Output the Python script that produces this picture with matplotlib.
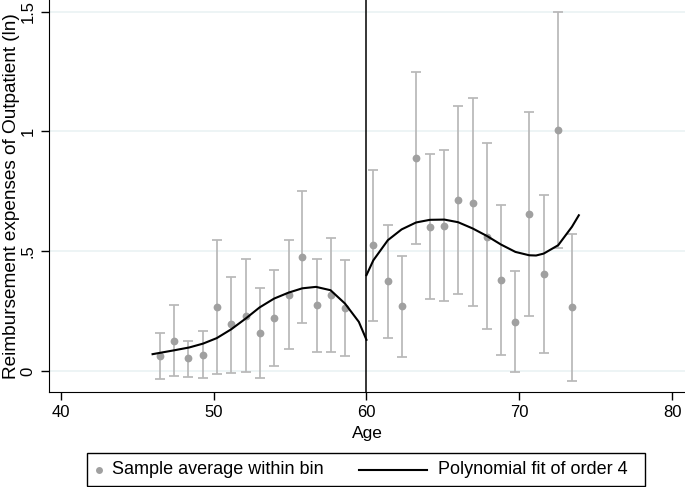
import matplotlib
matplotlib.use('Agg')
import matplotlib.pyplot as plt
from matplotlib.lines import Line2D
from matplotlib.patches import Rectangle

# --- DATA ---
# bin averages with 95% CI, left of the 60 cutoff
age_left = [46.5, 47.4, 48.35, 49.3, 50.2, 51.15, 52.1, 53.0, 53.95, 54.9, 55.8, 56.75, 57.65, 58.6]
mean_left = [0.063, 0.125, 0.052, 0.067, 0.267, 0.194, 0.230, 0.160, 0.221, 0.319, 0.476, 0.274, 0.316, 0.263]
hi_left = [0.160, 0.274, 0.127, 0.166, 0.546, 0.394, 0.467, 0.348, 0.422, 0.546, 0.750, 0.467, 0.557, 0.462]
lo_left = [-0.033, -0.022, -0.025, -0.029, -0.013, -0.008, -0.004, -0.028, 0.021, 0.091, 0.202, 0.081, 0.078, 0.064]

# right of the cutoff
age_right = [60.45, 61.4, 62.3, 63.25, 64.15, 65.1, 66.0, 66.95, 67.9, 68.8, 69.75, 70.65, 71.6, 72.55, 73.45]
mean_right = [0.525, 0.375, 0.272, 0.891, 0.602, 0.606, 0.713, 0.703, 0.561, 0.379, 0.205, 0.655, 0.403, 1.007, 0.265]
hi_right = [0.838, 0.609, 0.482, 1.249, 0.905, 0.922, 1.106, 1.138, 0.951, 0.692, 0.416, 1.082, 0.735, 1.500, 0.570]
lo_right = [0.209, 0.139, 0.060, 0.532, 0.300, 0.291, 0.320, 0.270, 0.177, 0.066, -0.005, 0.229, 0.073, 0.515, -0.042]

# polynomial fit (order 4)
fit_age_left = [46.0, 47.4, 48.4, 49.3, 50.2, 51.15, 52.1, 53.0, 53.95, 54.9, 55.8, 56.7, 57.65, 58.6, 59.5, 60.0]
fit_left = [0.070, 0.086, 0.098, 0.114, 0.137, 0.174, 0.219, 0.265, 0.302, 0.327, 0.345, 0.351, 0.337, 0.281, 0.205, 0.130]
fit_age_right = [60.0, 60.45, 61.4, 62.3, 63.25, 64.15, 65.1, 66.0, 66.95, 67.9, 68.8, 69.75, 70.65, 71.1, 71.6, 72.55, 73.45, 73.9]
fit_right = [0.400, 0.462, 0.546, 0.591, 0.620, 0.631, 0.632, 0.621, 0.595, 0.563, 0.528, 0.497, 0.483, 0.482, 0.490, 0.525, 0.602, 0.650]

x_ticks = [40, 50, 60, 70, 80]
y_ticks = [0, 0.5, 1, 1.5]
y_tick_labels = ['0', '.5', '1', '1.5']
legend_labels = ['Sample average within bin', 'Polynomial fit of order 4']

plt.rcParams['font.family'] = ['Liberation Sans', 'DejaVu Sans']

W, H = 685, 487
fig = plt.figure(figsize=(W / 100, H / 100), dpi=100)
ax = fig.add_axes([49 / W, 1 - 392 / H, 636 / W, 392 / H])

pt_col = '#a0a0a0'
bar_col = '#b8b8b8'

for a, m, hi, lo in [(age_left, mean_left, hi_left, lo_left),
                     (age_right, mean_right, hi_right, lo_right)]:
    yerr = [[mi - l for mi, l in zip(m, lo)], [h - mi for mi, h in zip(m, hi)]]
    ax.errorbar(a, m, yerr=yerr, fmt='none', ecolor=bar_col, elinewidth=1.25,
                capsize=3.4, capthick=1.25, zorder=2)
    ax.plot(a, m, 'o', color=pt_col, markersize=5.6, markeredgewidth=0, zorder=3)

ax.plot(fit_age_left, fit_left, color='black', lw=1.5, zorder=4)
ax.plot(fit_age_right, fit_right, color='black', lw=1.5, zorder=4)
ax.axvline(60, color='black', lw=1.1, zorder=4)

ax.set_xlim(39.22, 80.85)
ax.set_ylim(-0.088, 1.549)
ax.set_xticks(x_ticks)
ax.set_yticks(y_ticks)
ax.set_yticklabels(y_tick_labels, rotation=90, va='center')
for y in y_ticks:
    ax.axhline(y, color='#eaf2f3', lw=1.2, zorder=1)

ax.spines['top'].set_visible(False)
ax.spines['right'].set_visible(False)
ax.tick_params(direction='out', length=6, width=1, labelsize=12)
ax.set_xlabel('Age', fontsize=12.5, labelpad=4)
ylab = ax.set_ylabel('Reimbursement expenses of Outpatient (ln)', fontsize=12)
ax.yaxis.set_label_coords(-29 / 636, 0.5)

# shrink the y label so it spans about 372 px like the reference
renderer = fig.canvas.get_renderer()
span = ylab.get_window_extent(renderer).height
ylab.set_fontsize(12 * 368 / span)

# legend box below the plot, drawn by hand so the two keys have different widths
def fx(px):
    return px / W

def fy(py):
    return 1 - py / H

fig.add_artist(Rectangle((fx(87), fy(486)), fx(645) - fx(87), fy(453) - fy(486),
                         transform=fig.transFigure, facecolor='white',
                         edgecolor='black', lw=1))
ly = fy(469.5)
fig.add_artist(Line2D([fx(99)], [ly], transform=fig.transFigure, marker='o',
                      color=pt_col, markersize=5, markeredgewidth=0, ls='none'))
fig.text(fx(112), ly, legend_labels[0], fontsize=13, va='center', ha='left')
fig.add_artist(Line2D([fx(359), fx(427)], [ly, ly], transform=fig.transFigure,
                      color='black', lw=1.5))
fig.text(fx(438), ly, legend_labels[1], fontsize=13, va='center', ha='left')

fig.savefig('out.png', dpi=100)
